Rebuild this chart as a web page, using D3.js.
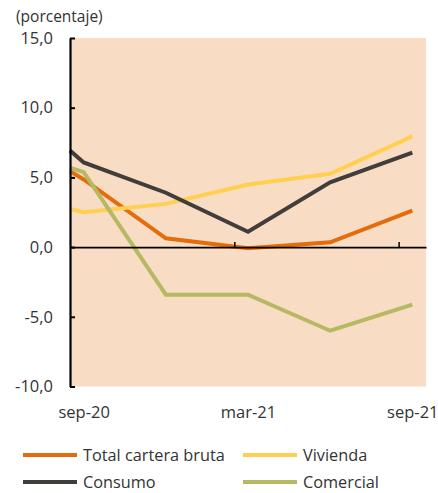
<!DOCTYPE html>
<html>
<head>
<meta charset="utf-8">
<script src="https://cdn.jsdelivr.net/npm/d3@7"></script>
<style>
  html, body { margin: 0; padding: 0; background: #ffffff; }
  svg { display: block; }
  text { font-family: "Open Sans", sans-serif; fill: #333333; }
</style>
</head>
<body>
<svg id="chart" width="438" height="493"></svg>
<script>
// ---- data ----
const monthOffsets = [-0.5, 0, 3, 6, 9, 12];          // months from sep-20
const totalCartera = [5.45, 4.85, 0.63, -0.09, 0.34, 2.62];
const vivienda     = [2.74, 2.50, 3.10, 4.49, 5.26, 7.94];
const consumo      = [6.93, 6.07, 3.90, 1.10, 4.65, 6.77];
const comercial    = [5.69, 5.38, -3.41, -3.41, -6.00, -4.13];
const xTickLabels  = ["sep-20", "mar-21", "sep-21"];
const xLabelPos    = [0, 6, 12];
const xTickMarks   = [5.5, 11.5];
const yTicks       = [-10, -5, 0, 5, 10, 15];
const seriesNames  = ["Total cartera bruta", "Vivienda", "Consumo", "Comercial"];
const seriesColors = ["#E46C0A", "#FFD050", "#403D3A", "#B5B962"];

const series = [
  { name: seriesNames[0], color: seriesColors[0], values: totalCartera },
  { name: seriesNames[1], color: seriesColors[1], values: vivienda },
  { name: seriesNames[2], color: seriesColors[2], values: consumo },
  { name: seriesNames[3], color: seriesColors[3], values: comercial }
];

const svg = d3.select("#chart");
const pLeft = 70, pRight = 426, pTop = 38, pBottom = 386.5;

const x = d3.scaleLinear().domain([-0.5, 12.5]).range([pLeft, pRight]);
const y = d3.scaleLinear().domain([-10, 15]).range([pBottom, pTop]);

// background
svg.append("rect")
  .attr("x", pLeft).attr("y", pTop)
  .attr("width", pRight - pLeft).attr("height", pBottom - pTop)
  .attr("fill", "#F9DCC4");

// unit label
svg.append("text")
  .attr("x", 16).attr("y", 22)
  .attr("font-size", 15.5)
  .text("(porcentaje)");

// lines
const line = d3.line()
  .x((d, i) => x(monthOffsets[i]))
  .y(d => y(d));

svg.append("g").selectAll("path")
  .data(series)
  .join("path")
  .attr("d", d => line(d.values))
  .attr("fill", "none")
  .attr("stroke", d => d.color)
  .attr("stroke-width", 4)
  .attr("stroke-linejoin", "miter");

// zero line with tick marks
const xAxisZero = d3.axisBottom(x)
  .tickValues(xTickMarks)
  .tickSize(-5)
  .tickSizeOuter(0)
  .tickFormat("");
const gz = svg.append("g")
  .attr("transform", `translate(0,${y(0)})`)
  .call(xAxisZero);
gz.select(".domain").attr("stroke", "#000").attr("stroke-width", 1.6);
gz.selectAll(".tick line").attr("stroke", "#000").attr("stroke-width", 1.5);

// x labels
const xAxisLabels = d3.axisBottom(x)
  .tickValues(xLabelPos)
  .tickSize(0)
  .tickPadding(20)
  .tickFormat((d, i) => xTickLabels[i]);
const gx = svg.append("g")
  .attr("transform", `translate(0,${pBottom})`)
  .call(xAxisLabels);
gx.select(".domain").remove();
gx.selectAll("text").attr("font-size", 16.5).attr("fill", "#333").attr("font-family", "Open Sans, sans-serif");

// y axis
const yAxis = d3.axisLeft(y)
  .tickValues(yTicks)
  .tickSize(-5)
  .tickSizeOuter(0)
  .tickPadding(17)
  .tickFormat(d => d3.format(".1f")(d).replace(".", ",").replace("\u2212", "-"));
const gy = svg.append("g")
  .attr("transform", `translate(${pLeft},0)`)
  .call(yAxis);
gy.select(".domain").attr("stroke", "#000").attr("stroke-width", 2.2);
gy.selectAll(".tick line").attr("stroke", "#000").attr("stroke-width", 2);
gy.selectAll("text").attr("font-size", 16.5).attr("fill", "#333").attr("font-family", "Open Sans, sans-serif");

// legend
const legendPos = [
  { lx: 23, ly: 455 }, { lx: 243, ly: 455 },
  { lx: 23, ly: 482 }, { lx: 243, ly: 482 }
];
const lg = svg.append("g").selectAll("g")
  .data(series)
  .join("g")
  .attr("transform", (d, i) => `translate(${legendPos[i].lx},${legendPos[i].ly})`);
lg.append("line")
  .attr("x1", 0).attr("x2", 54)
  .attr("y1", 0).attr("y2", 0)
  .attr("stroke", d => d.color)
  .attr("stroke-width", 4);
lg.append("text")
  .attr("x", 60).attr("y", 0)
  .attr("dy", "0.35em")
  .attr("font-size", 16.3)
  .text(d => d.name);
</script>
</body>
</html>
